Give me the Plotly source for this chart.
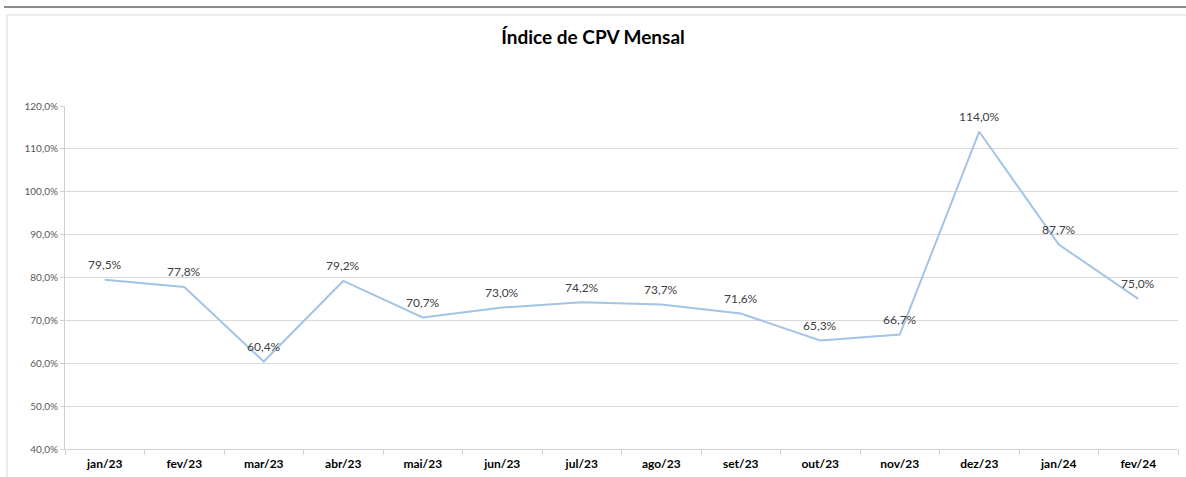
import plotly.graph_objects as go

categories = ["jan/23", "fev/23", "mar/23", "abr/23", "mai/23", "jun/23", "jul/23",
              "ago/23", "set/23", "out/23", "nov/23", "dez/23", "jan/24", "fev/24"]
cpv_index = [79.5, 77.8, 60.4, 79.2, 70.7, 73.0, 74.2, 73.7, 71.6, 65.3, 66.7, 114.0, 87.7, 75.0]
y_ticks = [40, 50, 60, 70, 80, 90, 100, 110, 120]
y_tick_labels = [f"{v:.1f}%".replace(".", ",") for v in y_ticks]
point_labels = [f"{v:.1f}%".replace(".", ",") for v in cpv_index]

W, H = 1186, 477
L, R, T, B = 65, 8, 106, 28
pw, ph = W - L - R, H - T - B

def px_x(p):
    return (p - L) / pw

def px_y(p):
    return (H - B - p) / ph

FONT = "Lato, Open Sans, sans-serif"

fig = go.Figure()
fig.add_trace(go.Scatter(
    x=categories, y=cpv_index, mode="lines",
    line=dict(color="#A3C4E4", width=2),
    showlegend=False, hoverinfo="skip"))

for c, v, t in zip(categories, cpv_index, point_labels):
    fig.add_annotation(x=c, y=v, text=t, showarrow=False, yshift=15,
                       font=dict(family=FONT, size=12, color="#404040"))

fig.update_layout(
    width=W, height=H,
    margin=dict(l=L, r=R, t=T, b=B, autoexpand=False),
    paper_bgcolor="white", plot_bgcolor="white",
    title=dict(text="<b>Índice de CPV Mensal</b>", x=0.5, xanchor="center",
               y=1 - 37 / H, yanchor="middle",
               font=dict(family=FONT, size=19, color="#000000")),
    xaxis=dict(type="category", showgrid=False, showline=True, linecolor="#d0d0d0",
               ticks="outside", tickson="boundaries", ticklen=5, tickcolor="#d0d0d0",
               ticklabelstandoff=4, automargin=False,
               tickfont=dict(family=FONT, size=12, color="#000000", weight="bold"),
               range=[-0.5, len(categories) - 0.5]),
    yaxis=dict(range=[40, 120], tickvals=y_ticks, ticktext=y_tick_labels,
               showgrid=True, gridcolor="#d9d9d9", gridwidth=1, automargin=False,
               showline=True, linecolor="#d0d0d0", ticks="outside", ticklen=4, tickcolor="#d0d0d0",
               zeroline=False,
               tickfont=dict(family=FONT, size=10, color="#595959")),
    shapes=[
        dict(type="line", xref="paper", yref="paper", x0=px_x(4), x1=px_x(1186),
             y0=px_y(7), y1=px_y(7), line=dict(color="#8c8c8c", width=2)),
        dict(type="line", xref="paper", yref="paper", x0=px_x(7), x1=px_x(1186),
             y0=px_y(15), y1=px_y(15), line=dict(color="#d9d9d9", width=1)),
        dict(type="line", xref="paper", yref="paper", x0=px_x(7), x1=px_x(7),
             y0=px_y(15), y1=px_y(477), line=dict(color="#d9d9d9", width=1)),
    ],
)

fig.write_html("out.html", config={"displayModeBar": False, "staticPlot": True},
               post_script="document.body.style.margin='0';document.body.style.overflow='hidden';")
